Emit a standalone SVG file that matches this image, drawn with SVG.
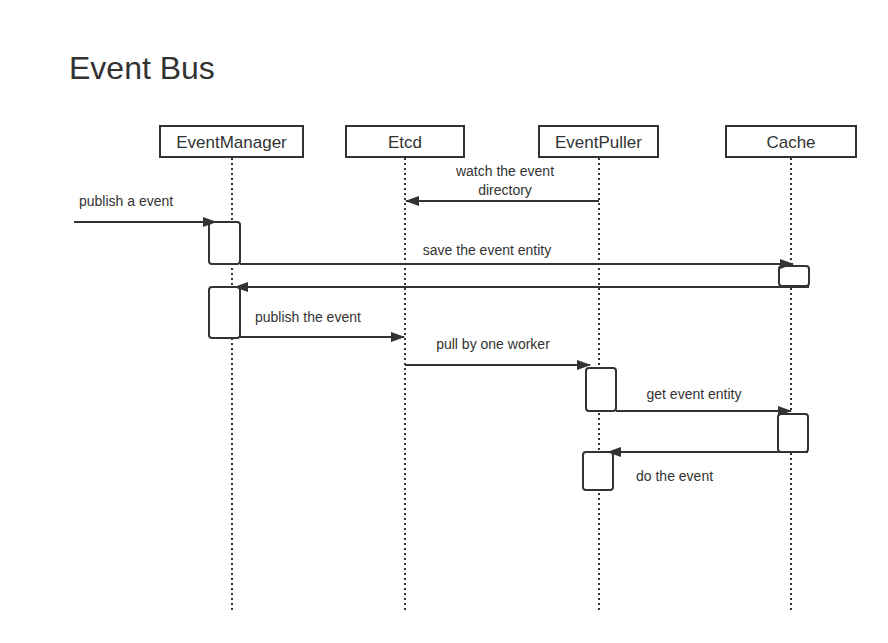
<svg xmlns="http://www.w3.org/2000/svg" width="888" height="643" viewBox="0 0 888 643">
<style>
text{font-family:"Liberation Sans",Arial,sans-serif;fill:#333}
.hdr rect{fill:#fff;stroke:#333;stroke-width:2}
.hdr text{font-size:17px;text-anchor:middle}
.life{stroke:#333;stroke-width:2;stroke-dasharray:2 3;fill:none}
.act{fill:#fff;stroke:#333;stroke-width:2}
.msg{stroke:#333;stroke-width:2;fill:none;marker-end:url(#ah)}
.lbl{font-size:14px}
</style>
<defs>
<marker id="ah" viewBox="0 0 14 10" refX="13" refY="5" markerWidth="14" markerHeight="10" markerUnits="userSpaceOnUse" orient="auto">
<path d="M0,0 L14,5 L0,10 Z" fill="#333"/>
</marker>
</defs>
<rect width="888" height="643" fill="#fff"/>
<text x="69" y="79" font-size="32">Event Bus</text>
<g id="lifelines">
<line class="life" x1="232" y1="158" x2="232" y2="610"/>
<line class="life" x1="405" y1="158" x2="405" y2="610"/>
<line class="life" x1="599" y1="158" x2="599" y2="610"/>
<line class="life" x1="791" y1="158" x2="791" y2="610"/>
</g>
<g id="EventManager" class="hdr"><rect x="160" y="126" width="143" height="31"/><text x="231.5" y="148">EventManager</text></g>
<g id="Etcd" class="hdr"><rect x="346" y="126" width="118" height="31"/><text x="405" y="148">Etcd</text></g>
<g id="EventPuller" class="hdr"><rect x="539" y="126" width="119" height="31"/><text x="598.5" y="148">EventPuller</text></g>
<g id="Cache" class="hdr"><rect x="726" y="126" width="130" height="31"/><text x="791" y="148">Cache</text></g>
<g id="activations">
<rect class="act" x="209" y="222" width="31" height="42" rx="3"/>
<rect class="act" x="209" y="287" width="31" height="51" rx="3"/>
<rect class="act" x="779" y="266" width="30" height="20" rx="3"/>
<rect class="act" x="586" y="368" width="30" height="43" rx="3"/>
<rect class="act" x="778" y="414" width="30" height="38" rx="3"/>
<rect class="act" x="583" y="452" width="30" height="38" rx="3"/>
</g>
<g id="connectors">
<line class="msg" x1="599" y1="201" x2="406" y2="201"/>
<line class="msg" x1="74" y1="222" x2="216" y2="222"/>
<line class="msg" x1="240" y1="264" x2="793" y2="264"/>
<line class="msg" x1="809" y1="287" x2="235" y2="287"/>
<line class="msg" x1="240" y1="337" x2="404" y2="337"/>
<line class="msg" x1="405" y1="365" x2="590" y2="365"/>
<line class="msg" x1="616" y1="411" x2="791" y2="411"/>
<line class="msg" x1="808" y1="452" x2="608" y2="452"/>
</g>
<g id="labels" class="lbl">
<text class="lbl" x="505" y="176" text-anchor="middle">watch the event</text>
<text class="lbl" x="505" y="195" text-anchor="middle">directory</text>
<text class="lbl" x="79" y="206">publish a event</text>
<text class="lbl" x="487" y="255" text-anchor="middle">save the event entity</text>
<text class="lbl" x="255" y="322">publish the event</text>
<text class="lbl" x="493" y="349" text-anchor="middle">pull by one worker</text>
<text class="lbl" x="694" y="399" text-anchor="middle">get event entity</text>
<text class="lbl" x="636" y="481">do the event</text>
</g>
</svg>
